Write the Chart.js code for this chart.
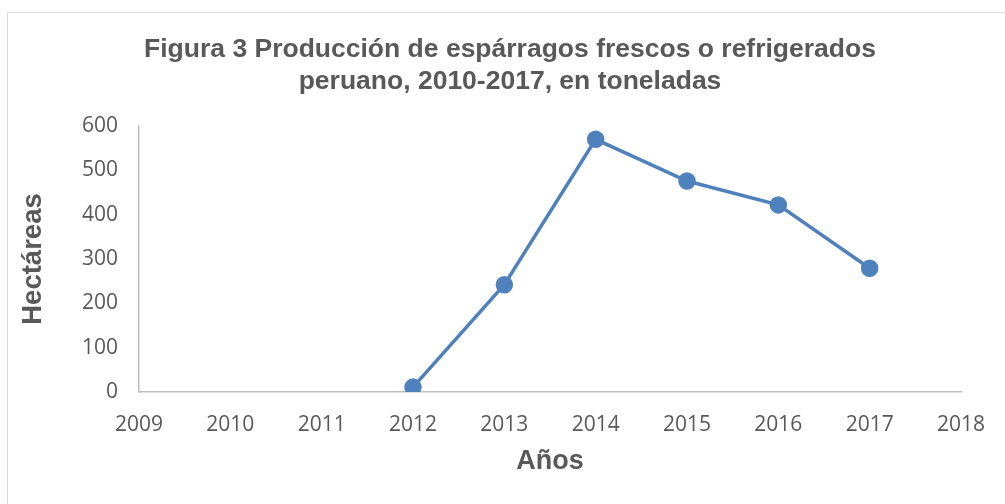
<!DOCTYPE html>
<html>
<head>
<meta charset="utf-8">
<script src="https://cdn.jsdelivr.net/npm/chart.js@4"></script>
<style>
  html, body { margin: 0; padding: 0; background: #fff; }
  #wrap { position: relative; width: 1005px; height: 504px; overflow: hidden; }
  #frame { position: absolute; left: 7px; top: 12px; width: 1100px; height: 600px; border: 1px solid #d9d9d9; box-sizing: border-box; }
  canvas { position: absolute; left: 0; top: 0; }
</style>
</head>
<body>
<div id="wrap">
  <div id="frame"></div>
  <canvas id="chart" width="1005" height="504"></canvas>
</div>
<script>
const years = [2012, 2013, 2014, 2015, 2016, 2017];
const hectareas = [11, 242, 570, 476, 422, 279];
const titleLines = ['Figura 3 Producción de espárragos frescos o refrigerados', 'peruano, 2010-2017, en toneladas'];

const gray = '#595959';
const blue = '#4f81bd';

const points = years.map((y, i) => ({ x: y, y: hectareas[i] }));

new Chart(document.getElementById('chart'), {
  type: 'scatter',
  data: {
    datasets: [{
      data: points,
      showLine: true,
      borderColor: blue,
      backgroundColor: blue,
      borderWidth: 3.5,
      pointRadius: 7,
      pointHoverRadius: 7,
      tension: 0
    }]
  },
  options: {
    responsive: false,
    animation: false,
    // left padding shifts the title centre to match the original
    layout: { padding: { top: 10, left: 59, right: 44, bottom: 0 } },
    plugins: {
      legend: { display: false },
      tooltip: { enabled: false },
      title: {
        display: true,
        text: titleLines,
        color: gray,
        font: { family: "'Liberation Sans', Arial, sans-serif", size: 26.5, weight: 'bold', lineHeight: '32px' },
        padding: { top: 24, bottom: 28 }
      }
    },
    scales: {
      x: {
        type: 'linear',
        min: 2009,
        max: 2018,
        grid: { display: false },
        border: { color: '#bfbfbf', width: 1.5 },
        ticks: {
          stepSize: 1,
          color: gray,
          padding: 12,
          font: { family: "'Open Sans', sans-serif", size: 21 },
          callback: v => String(v)
        },
        title: {
          display: true,
          text: 'Años',
          color: gray,
          font: { family: "'Liberation Sans', Arial, sans-serif", size: 27, weight: 'bold' },
          padding: { top: 0, bottom: 26 }
        },
        afterFit: s => { s.height = 112; }
      },
      y: {
        min: 0,
        max: 600,
        grid: { display: false },
        border: { color: '#bfbfbf', width: 1.5 },
        ticks: {
          stepSize: 100,
          color: gray,
          padding: 13,
          font: { family: "'Open Sans', sans-serif", size: 21 }
        },
        title: {
          display: true,
          text: 'Hectáreas',
          color: gray,
          font: { family: "'Liberation Sans', Arial, sans-serif", size: 27.5, weight: 'bold' },
          padding: { top: -42, bottom: 0 }
        },
        afterFit: s => { s.width = 80; }
      }
    }
  }
});
</script>
</body>
</html>
